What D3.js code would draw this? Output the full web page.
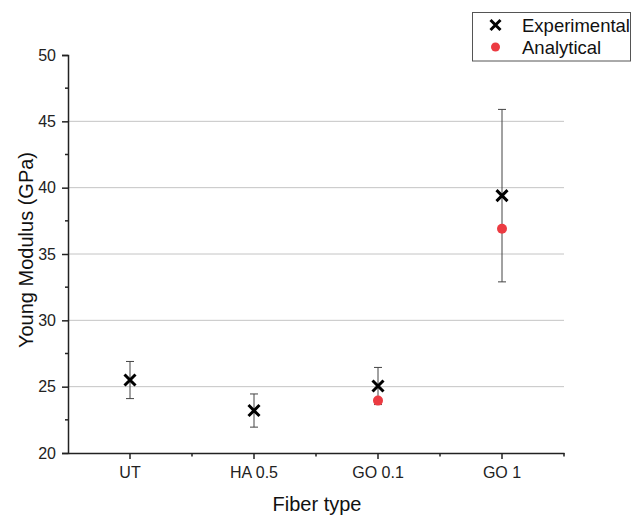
<!DOCTYPE html>
<html>
<head>
<meta charset="utf-8">
<script src="https://cdn.jsdelivr.net/npm/d3@7"></script>
<style>
  html, body { margin: 0; padding: 0; background: #fff; }
  svg { display: block; font-family: "Liberation Sans", Arial, sans-serif; }
</style>
</head>
<body>
<svg id="chart" width="632" height="515"></svg>
<script>
const categories = ["UT", "HA 0.5", "GO 0.1", "GO 1"];
const experimental = [25.5, 23.2, 25.05, 39.4];
const experimentalErr = [1.4, 1.25, 1.4, 6.5];
const analytical = [null, null, 23.95, 36.9];
const yTicks = [20, 25, 30, 35, 40, 45, 50];
const yMinorTicks = [22.5, 27.5, 32.5, 37.5, 42.5, 47.5];
const yTitle = "Young Modulus (GPa)";
const xTitle = "Fiber type";
const seriesNames = ["Experimental", "Analytical"];

const svg = d3.select("#chart");
const pLeft = 68, pRight = 564, pTop = 55, pBottom = 453;

const x = d3.scaleBand().domain(categories).range([pLeft, pRight]).padding(0);
const y = d3.scaleLinear().domain([20, 50]).range([pBottom, pTop]);

// gridlines
svg.append("g").selectAll("line")
  .data(yTicks.filter(t => t > 20 && t < 50))
  .enter().append("line")
  .attr("x1", pLeft).attr("x2", pRight)
  .attr("y1", d => y(d)).attr("y2", d => y(d))
  .attr("stroke", "#c4c4c4").attr("stroke-width", 1);

// y axis
const yAxis = d3.axisLeft(y).tickValues(yTicks).tickSize(6).tickPadding(6).tickFormat(d3.format("d"));
const gy = svg.append("g").attr("transform", `translate(${pLeft},0)`).call(yAxis);
gy.select(".domain").attr("stroke", "#222").attr("stroke-width", 1.5);
gy.selectAll(".tick line").attr("stroke", "#222").attr("stroke-width", 1.5);
gy.selectAll(".tick text").attr("font-size", 16).attr("fill", "#222")
  .attr("font-family", "'Liberation Sans', Arial, sans-serif");
svg.append("g").selectAll("line").data(yMinorTicks).enter().append("line")
  .attr("x1", pLeft - 3).attr("x2", pLeft)
  .attr("y1", d => y(d)).attr("y2", d => y(d))
  .attr("stroke", "#222").attr("stroke-width", 1.5);

// x axis
const xAxis = d3.axisBottom(x).tickSize(6).tickPadding(8).tickSizeOuter(0);
const gx = svg.append("g").attr("transform", `translate(0,${pBottom})`).call(xAxis);
gx.select(".domain").attr("stroke", "#222").attr("stroke-width", 1.5);
gx.selectAll(".tick line").attr("stroke", "#222").attr("stroke-width", 1.5);
gx.selectAll(".tick text").attr("font-size", 16).attr("fill", "#222")
  .attr("font-family", "'Liberation Sans', Arial, sans-serif");
const xMinor = categories.map(c => x(c) + x.bandwidth());
svg.append("g").selectAll("line").data(xMinor).enter().append("line")
  .attr("x1", d => d).attr("x2", d => d)
  .attr("y1", pBottom).attr("y2", pBottom + 3.5)
  .attr("stroke", "#222").attr("stroke-width", 1.5);

// axis titles
svg.append("text")
  .attr("transform", `translate(33,${(pTop + pBottom) / 2 - 4}) rotate(-90)`)
  .attr("text-anchor", "middle").attr("font-size", 20).attr("fill", "#111")
  .text(yTitle);
svg.append("text")
  .attr("x", (pLeft + pRight) / 2 + 1).attr("y", 511)
  .attr("text-anchor", "middle").attr("font-size", 20).attr("fill", "#111")
  .text(xTitle);

const cx = c => x(c) + x.bandwidth() / 2;

// error bars
const eb = svg.append("g");
categories.forEach((c, i) => {
  const v = experimental[i], e = experimentalErr[i];
  const X = cx(c);
  eb.append("line").attr("x1", X).attr("x2", X).attr("y1", y(v + e)).attr("y2", y(v - e))
    .attr("stroke", "#444").attr("stroke-width", 1);
  [v + e, v - e].forEach(w => {
    eb.append("line").attr("x1", X - 4).attr("x2", X + 4).attr("y1", y(w)).attr("y2", y(w))
      .attr("stroke", "#444").attr("stroke-width", 1);
  });
});

// analytical points
svg.append("g").selectAll("circle")
  .data(categories.map((c, i) => ({ c, v: analytical[i] })).filter(d => d.v != null))
  .enter().append("circle")
  .attr("cx", d => cx(d.c)).attr("cy", d => y(d.v)).attr("r", 5)
  .attr("fill", "#ec3b42");

// experimental crosses
const crossPath = (X, Y, s) => `M${X - s},${Y - s}L${X + s},${Y + s}M${X - s},${Y + s}L${X + s},${Y - s}`;
svg.append("g").selectAll("path")
  .data(categories.map((c, i) => ({ c, v: experimental[i] })))
  .enter().append("path")
  .attr("d", d => crossPath(cx(d.c), y(d.v), 5.5))
  .attr("stroke", "#000").attr("stroke-width", 3).attr("fill", "none");

// legend
const lg = svg.append("g");
lg.append("rect").attr("x", 472.5).attr("y", 12.5).attr("width", 158).attr("height", 48.5)
  .attr("fill", "#fff").attr("stroke", "#555").attr("stroke-width", 1);
lg.append("path").attr("d", crossPath(495.5, 25, 5)).attr("stroke", "#000").attr("stroke-width", 3).attr("fill", "none");
lg.append("circle").attr("cx", 495.5).attr("cy", 47).attr("r", 4.5).attr("fill", "#ec3b42");
lg.append("text").attr("x", 522).attr("y", 32).attr("font-size", 18.5).attr("fill", "#111").text(seriesNames[0]);
lg.append("text").attr("x", 522).attr("y", 54).attr("font-size", 18.5).attr("fill", "#111").text(seriesNames[1]);
</script>
</body>
</html>
